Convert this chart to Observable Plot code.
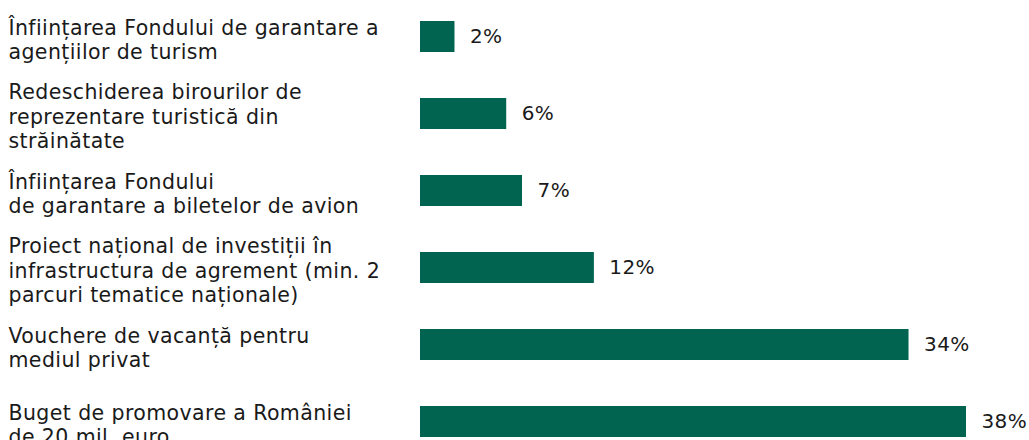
<!DOCTYPE html>
<html><head><meta charset="utf-8">
<script src="https://cdn.jsdelivr.net/npm/d3@7"></script>
<script src="https://cdn.jsdelivr.net/npm/@observablehq/plot@0.6"></script>
<style>body{margin:0;background:#fff}</style>
</head><body><div id="chart"></div>
<script>
const categories = [
  "Înființarea Fondului de garantare a\nagențiilor de turism",
  "Redeschiderea birourilor de\nreprezentare turistică din\nstrăinătate",
  "Înființarea Fondului\nde garantare a biletelor de avion",
  "Proiect național de investiții în\ninfrastructura de agrement (min. 2\nparcuri tematice naționale)",
  "Vouchere de vacanță pentru\nmediul privat",
  "Buget de promovare a României\nde 20 mil. euro"
];
const values = [2.4, 6.0, 7.1, 12.1, 34.0, 38.0];
const valueLabels = ["2%", "6%", "7%", "12%", "34%", "38%"];

const data = categories.map((c, i) => ({category: c, value: values[i], label: valueLabels[i]}));
const font = "DejaVu Sans";
const chart = Plot.plot({
  width: 1029, height: 440,
  marginLeft: 420, marginRight: 63, marginTop: 19, marginBottom: 2,
  style: {fontFamily: font, background: "#fff", letterSpacing: "0.4px"},
  x: {domain: [0, 38], axis: null},
  y: {domain: categories, axis: null, paddingInner: 0.6, paddingOuter: 0},
  marks: [
    Plot.barX(data, {x: "value", y: "category", fill: "#006450"}),
    Plot.text(data, {x: "value", y: "category", text: "label", textAnchor: "start", dx: 15, fontSize: 20, fill: "#1a1a1a", fontFamily: font}),
    Plot.text(data, {y: "category", text: "category", frameAnchor: "left", textAnchor: "start", dx: -412, dy: 2, fontSize: 20.5, lineHeight: 1.2, fill: "#1a1a1a", fontFamily: font})
  ]
});
document.getElementById("chart").appendChild(chart);
</script>
</body></html>
